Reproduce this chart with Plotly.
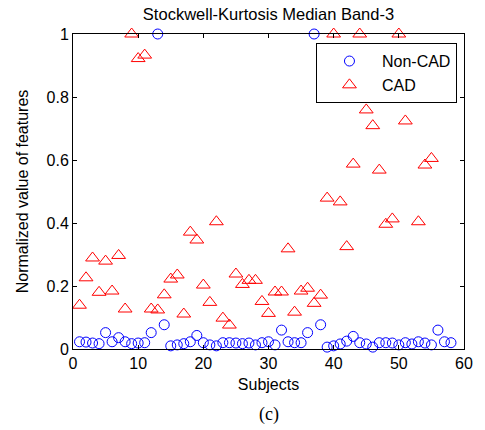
import plotly.graph_objects as go

# Normalized Stockwell-kurtosis (median, band 3) per subject
non_cad_subjects = list(range(1, 59))
non_cad_values = [
    0.023, 0.022, 0.019, 0.017, 0.052, 0.023, 0.036, 0.023, 0.017, 0.019,
    0.020, 0.052, 1.000, 0.077, 0.010, 0.013, 0.017, 0.023, 0.043, 0.020,
    0.013, 0.010, 0.020, 0.020, 0.019, 0.017, 0.019, 0.013, 0.020, 0.023,
    0.013, 0.060, 0.023, 0.020, 0.020, 0.052, 1.000, 0.077, 0.006, 0.010,
    0.016, 0.025, 0.040, 0.020, 0.016, 0.006, 0.020, 0.020, 0.019, 0.013,
    0.020, 0.016, 0.023, 0.019, 0.013, 0.060, 0.023, 0.020,
]

cad_subjects = list(range(1, 52)) + [53, 54, 55]
cad_values = [
    0.139, 0.226, 0.289, 0.180, 0.279, 0.184, 0.297, 0.127, 1.000, 0.922,
    0.933, 0.127, 0.124, 0.172, 0.222, 0.235, 0.111, 0.371, 0.346, 0.203,
    0.148, 0.404, 0.098, 0.076, 0.238, 0.205, 0.218, 0.218, 0.151, 0.113,
    0.181, 0.181, 0.318, 0.117, 0.184, 0.193, 0.145, 0.171, 0.479, 1.000,
    0.467, 0.325, 0.587, 1.000, 0.759, 0.709, 0.568, 0.396, 0.413, 1.000,
    0.724, 0.404, 0.584, 0.605,
]

x_ticks = [0, 10, 20, 30, 40, 50, 60]
y_ticks = [0, 0.2, 0.4, 0.6, 0.8, 1]
y_tick_labels = ["0", "0.2", "0.4", "0.6", "0.8", "1"]

FONT = "Liberation Sans, Arial, sans-serif"

fig = go.Figure()
fig.add_trace(go.Scatter(
    x=non_cad_subjects, y=non_cad_values, mode="markers", name="Non-CAD",
    marker=dict(symbol="circle-open", size=10, color="#0000ff",
                line=dict(width=1, color="#0000ff")),
    cliponaxis=False,
))
fig.add_trace(go.Scatter(
    x=cad_subjects, y=cad_values, mode="markers", name="CAD",
    marker=dict(symbol="triangle-up-open", size=12, color="#ff0000",
                line=dict(width=1, color="#ff0000")),
    cliponaxis=False,
))

axis_common = dict(
    showline=True, linecolor="black", linewidth=1, mirror="ticks",
    ticks="inside", ticklen=4, tickcolor="black", tickwidth=1,
    showgrid=False, zeroline=False,
    tickfont=dict(family=FONT, size=16, color="black"),
)

fig.update_layout(
    width=485, height=430,
    margin=dict(l=73, r=16, t=34, b=81),
    paper_bgcolor="white", plot_bgcolor="white",
    title=dict(text="Stockwell-Kurtosis Median Band-3", x=0.5, xref="paper",
               xanchor="center", y=1, yref="container", yanchor="top",
               pad=dict(t=8),
               font=dict(family=FONT, size=16.5, color="black")),
    xaxis=dict(range=[0, 60], tickvals=x_ticks, **axis_common,
               title=dict(text="Subjects", standoff=7,
                          font=dict(family=FONT, size=16, color="black"))),
    yaxis=dict(range=[0, 1], tickvals=y_ticks, ticktext=y_tick_labels,
               **axis_common,
               title=dict(text="Normalized value of features", standoff=13,
                          font=dict(family=FONT, size=16, color="black"))),
    legend=dict(x=0.982, y=0.971, xanchor="right", yanchor="top",
                bgcolor="white", bordercolor="black", borderwidth=1,
                itemwidth=55, tracegroupgap=0,
                font=dict(family=FONT, size=16, color="black")),
    showlegend=True,
)

fig.add_annotation(text="(c)", xref="paper", yref="paper", x=0.5, y=-0.208,
                   xanchor="center", yanchor="middle", showarrow=False,
                   font=dict(family="Liberation Serif, Times New Roman, serif",
                             size=18, color="black"))

fig.write_html("out.html")
